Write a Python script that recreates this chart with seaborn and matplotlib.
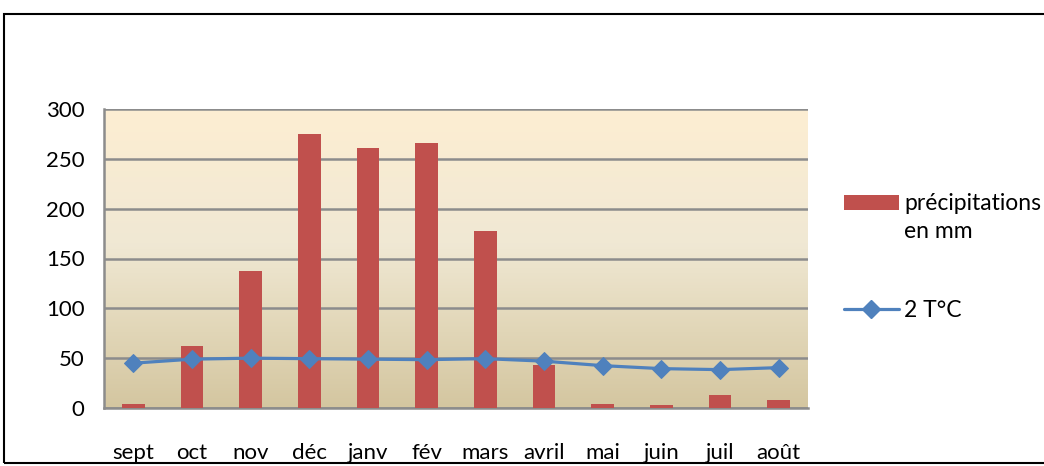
# Climate chart: monthly rainfall bars with temperature line

import numpy as np
import matplotlib.pyplot as plt
import seaborn as sns
from matplotlib.colors import LinearSegmentedColormap
from matplotlib.patches import Rectangle, Patch
from matplotlib.lines import Line2D

months = ['sept', 'oct', 'nov', 'déc', 'janv', 'fév', 'mars',
          'avril', 'mai', 'juin', 'juil', 'août']
precipitations = [4, 62, 137, 275, 261, 266, 178, 43, 4, 3, 13, 8]
temp_x2 = [45, 49, 50, 49.5, 49, 48.5, 49.5, 47, 42.5, 39.5, 38.5, 40.5]
y_ticks = [0, 50, 100, 150, 200, 250, 300]

bar_color = '#C0504D'
line_color = '#4F81BD'
grid_color = '#8C8C8C'

sns.set_style('white')
plt.rcParams['font.family'] = ['Lato', 'DejaVu Sans']
plt.rcParams['font.size'] = 16
plt.rcParams['text.color'] = 'black'

fig = plt.figure(figsize=(10.44, 4.66), dpi=100)
ax = fig.add_axes([104 / 1044, 1 - 408 / 466, 704 / 1044, 299 / 466])

# gradient fill of the plot area
cmap = LinearSegmentedColormap.from_list(
    'bg', [(0.0, '#D4C6A0'), (0.35, '#E6DCC0'), (0.55, '#F0E8D4'), (1.0, '#FDEED2')])
grad = np.linspace(0, 1, 256).reshape(-1, 1)
ax.imshow(grad, extent=[0, 1, 0, 1], transform=ax.transAxes, origin='lower',
          cmap=cmap, aspect='auto', zorder=0)

sns.barplot(x=months, y=precipitations, color=bar_color, saturation=1,
            width=0.39, linewidth=0, ax=ax, zorder=3)
sns.lineplot(x=np.arange(len(months)), y=temp_x2, color=line_color, lw=2.3,
             marker='D', markersize=9.5, markeredgecolor=line_color, ax=ax, zorder=4)

ax.set_xlim(-0.5, len(months) - 0.5)
ax.set_ylim(0, 300)
ax.set_yticks(y_ticks)
ax.yaxis.grid(True, color=grid_color, lw=1.8)
for l in ax.get_ygridlines():
    l.set_zorder(1)

ax.set_xticks(np.arange(len(months)))
ax.set_xticklabels(months)
ax.set_xticks(np.arange(-0.5, len(months)), minor=True)
ax.tick_params(axis='x', which='major', length=0, pad=25, labelcolor='black')
ax.tick_params(axis='x', which='minor', length=7, width=1.5, color=grid_color, direction='out')
ax.tick_params(axis='y', length=6, width=1.5, color=grid_color, direction='out', pad=8,
               labelcolor='black')
ax.set_xlabel('')
ax.set_ylabel('')

for side in ['top', 'right']:
    ax.spines[side].set_visible(False)
for side in ['left', 'bottom']:
    ax.spines[side].set_color(grid_color)
    ax.spines[side].set_linewidth(1.8)

handles = [Patch(facecolor=bar_color, edgecolor='none'),
           Line2D([0], [0], color=line_color, lw=2.3, marker='D', markersize=9.5)]
leg = fig.legend(handles, ['précipitations\nen mm', '2 T°C'], loc='upper left',
                 bbox_to_anchor=(823 / 1044, 1 - 172 / 466), frameon=False,
                 handlelength=2.4, handleheight=0.6, handletextpad=0.25,
                 labelspacing=2.5, fontsize=16.5)
for t in leg.get_texts():
    t.set_linespacing(1.45)
# keep the red swatch level with the first line of its label
swatch = leg.legend_handles[0]
swatch.set_y(swatch.get_y() + 11)

# outer chart frame
fig.patches.append(Rectangle((4 / 1044, 3 / 466), 1.2, 449 / 466, transform=fig.transFigure,
                             fill=False, edgecolor='black', lw=1.5))

fig.savefig('out.png', dpi=100)
